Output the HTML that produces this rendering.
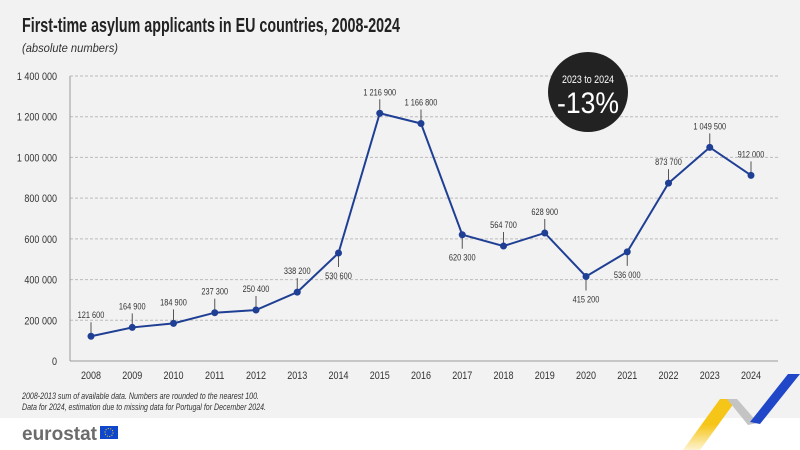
<!DOCTYPE html>
<html><head><meta charset="utf-8"><style>
body{margin:0;width:800px;height:450px;overflow:hidden;background:#fff;font-family:"Liberation Sans Narrow","Liberation Sans",sans-serif}
#bg{position:absolute;left:0;top:0;width:800px;height:418px;background:#f2f2f2}
svg{position:absolute;left:0;top:0}
</style></head><body>
<div id="bg"></div>
<svg id="c" width="800" height="450">
<text x="22" y="32" font-size="20" font-weight="bold" fill="#222" textLength="378" lengthAdjust="spacingAndGlyphs">First-time asylum applicants in EU countries, 2008-2024</text>
<text x="22" y="52" font-size="12" font-style="italic" fill="#333" textLength="96" lengthAdjust="spacingAndGlyphs">(absolute numbers)</text>
<g id="grid"></g><g id="xax"></g><g id="series"></g>
<g>
<circle cx="588" cy="92" r="40" fill="#222"/>
<text x="588" y="83" font-size="11" fill="#fff" text-anchor="middle" textLength="52" lengthAdjust="spacingAndGlyphs">2023 to 2024</text>
<text x="588" y="113" font-size="30" fill="#fff" text-anchor="middle" textLength="62" lengthAdjust="spacingAndGlyphs">-13%</text>
</g>
<text x="22" y="399" font-size="9" font-style="italic" fill="#333" textLength="237" lengthAdjust="spacingAndGlyphs">2008-2013 sum of available data. Numbers are rounded to the nearest 100.</text>
<text x="22" y="410" font-size="9" font-style="italic" fill="#333" textLength="244" lengthAdjust="spacingAndGlyphs">Data for 2024, estimation due to missing data for Portugal for December 2024.</text>
<g>
<text x="22" y="440" font-size="19" font-weight="bold" fill="#6b6b6b" textLength="75" lengthAdjust="spacingAndGlyphs">eurostat</text>
<rect x="100" y="426" width="18" height="13" fill="#0e47cb"/>
<circle cx="109" cy="432.5" r="4" fill="none" stroke="#ffd617" stroke-width="1" stroke-dasharray="1 1.5"/>
</g>
<defs><linearGradient id="yg" x1="0" y1="1" x2="0" y2="0"><stop offset="0" stop-color="#f5c518" stop-opacity="0.2"/><stop offset="0.5" stop-color="#f5c518"/></linearGradient></defs>
<g>
<polygon points="683,450 720,399 737,399 700,450" fill="url(#yg)"/>
<polygon points="727,399 737,399 758,423 748,425" fill="#c4c4c4"/>
<polygon points="750,422 788,374 800,374 760,424" fill="#1f47c8"/>
</g>
</svg>
<script>
const years=["2008","2009","2010","2011","2012","2013","2014","2015","2016","2017","2018","2019","2020","2021","2022","2023","2024"];
const values=[121600,164900,184900,237300,250400,338200,530600,1216900,1166800,620300,564700,628900,415200,536000,873700,1049500,912000];
const labels=["121 600","164 900","184 900","237 300","250 400","338 200","530 600","1 216 900","1 166 800","620 300","564 700","628 900","415 200","536 000","873 700","1 049 500","912 000"];
const below=[false,false,false,false,false,false,true,false,false,true,false,false,true,true,false,false,false];
const yTicks=[0,200000,400000,600000,800000,1000000,1200000,1400000];
const yTickLabels=["0","200 000","400 000","600 000","800 000","1 000 000","1 200 000","1 400 000"];
const NS="http://www.w3.org/2000/svg";
const y=v=>361-v*(285/1400000);
const x=i=>91+i*41.25;
function mk(t,a,p){const e=document.createElementNS(NS,t);for(const k in a)e.setAttribute(k,a[k]);p.appendChild(e);return e;}
const grid=document.getElementById('grid'),xax=document.getElementById('xax'),ser=document.getElementById('series');
yTicks.forEach((v,i)=>{
 const l=mk('line',{x1:70,x2:778,y1:y(v),y2:y(v),stroke:v===0?'#999':'#bbb','stroke-dasharray':v===0?'':'3 2'},grid);
 
 
 const t=mk('text',{x:57,y:y(v)+4,'font-size':11,fill:'#333','text-anchor':'end',transform:'translate(57 0) scale(0.82 1) translate(-57 0)'},grid);
 t.textContent=yTickLabels[i];
 
 
});
const ax=mk('line',{x1:70,x2:70,y1:y(1400000),y2:361,stroke:'#999'},grid);


years.forEach((yr,i)=>{
 const t=mk('text',{x:x(i),y:379,'font-size':11,fill:'#333','text-anchor':'middle',transform:`translate(${x(i)} 0) scale(0.82 1) translate(${-x(i)} 0)`},xax);
 t.textContent=yr;
 
 
});
const line=mk('polyline',{points:values.map((v,i)=>x(i)+','+y(v)).join(' '),fill:'none',stroke:'#1f3f94','stroke-width':2},ser);


values.forEach((v,i)=>{
 const py=y(v),b=below[i];
 const lk=mk('line',{x1:x(i),x2:x(i),y1:py,y2:b?py+14:py-14,stroke:'#555','stroke-width':1},ser);
 
 
 const c=mk('circle',{cx:x(i),cy:py,r:3.5,fill:'#1f3f94'},ser);
 
 
 const t=mk('text',{x:x(i),y:b?py+26:py-18,'font-size':9,fill:'#333','text-anchor':'middle',transform:`translate(${x(i)} 0) scale(0.82 1) translate(${-x(i)} 0)`},ser);
 t.textContent=labels[i];
 
 
});
</script>
</body></html>
